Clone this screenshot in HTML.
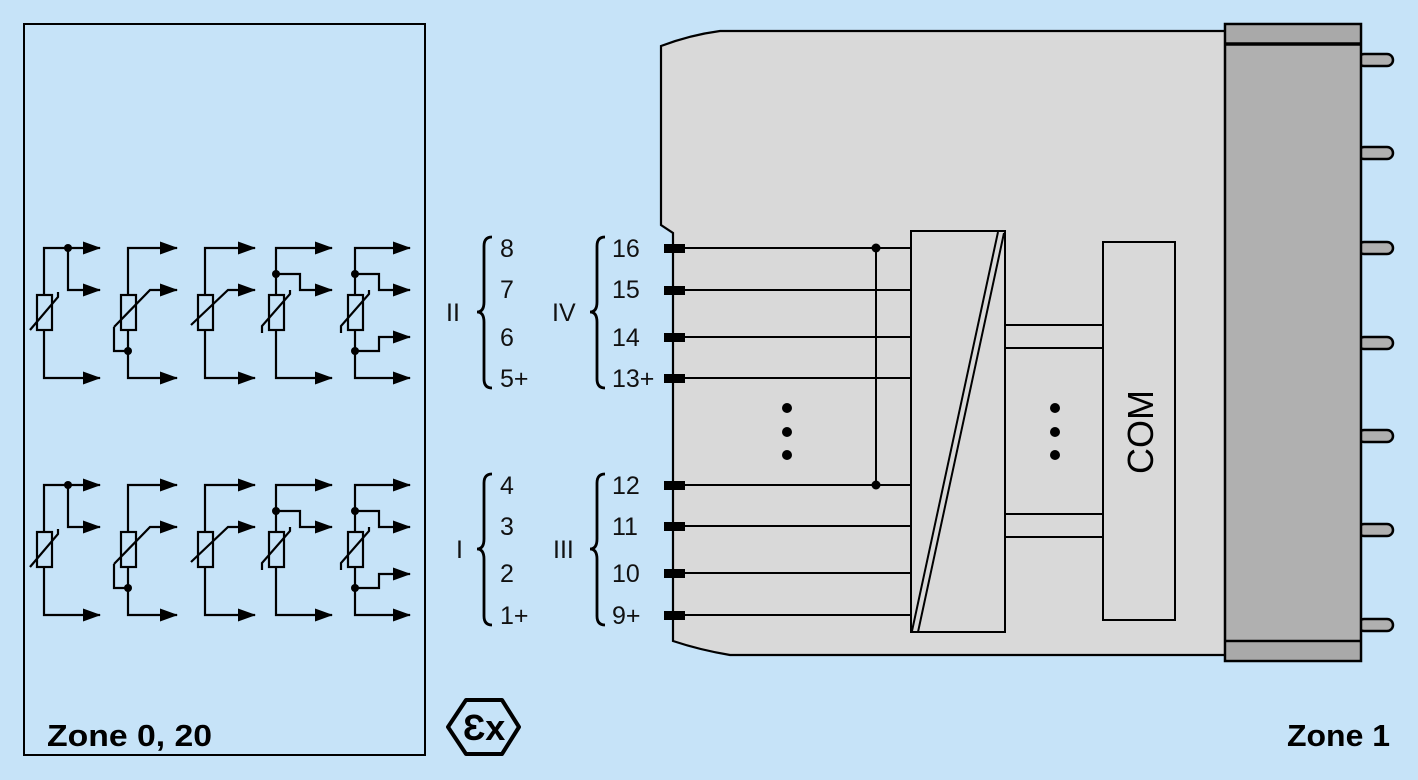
<!DOCTYPE html>
<html><head><meta charset="utf-8"><style>
html,body{margin:0;padding:0;background:#c6e3f8;}
svg{display:block;}
text{font-family:"Liberation Sans",Arial,sans-serif;}
</style></head><body>
<svg width="1418" height="780" viewBox="0 0 1418 780" xmlns="http://www.w3.org/2000/svg">
<defs>
<marker id="ar" markerWidth="18" markerHeight="14" refX="17" refY="6.5" orient="auto" markerUnits="userSpaceOnUse">
<path d="M0,0 L18,6.5 L0,13 z" fill="#000"/></marker>
<g id="sensors" fill="none" stroke="#000" stroke-width="2.2">
 <path d="M44,295 V248 H100" marker-end="url(#ar)"/>
 <path d="M68,248 V290 H100" marker-end="url(#ar)"/>
 <path d="M44,330 V378 H100" marker-end="url(#ar)"/>
 <rect x="37" y="295" width="15" height="35"/>
 <path d="M30,330 L58,297 V292"/>
 <circle cx="68" cy="248" r="4" fill="#000" stroke="none"/>
 <path d="M128,295 V248 H177" marker-end="url(#ar)"/>
 <path d="M128,330 V378 H177" marker-end="url(#ar)"/>
 <rect x="121" y="295" width="15" height="35"/>
 <path d="M114,327 L150,290 H177" marker-end="url(#ar)"/>
 <path d="M114,327 V351 H128"/>
 <circle cx="128" cy="351" r="4" fill="#000" stroke="none"/>
 <path d="M205,295 V248 H255" marker-end="url(#ar)"/>
 <path d="M205,330 V378 H255" marker-end="url(#ar)"/>
 <rect x="198" y="295" width="15" height="35"/>
 <path d="M191,325 L228,290 H255" marker-end="url(#ar)"/>
 <path d="M276,295 V248 H332" marker-end="url(#ar)"/>
 <path d="M276,274 H300 V290 H332" marker-end="url(#ar)"/>
 <path d="M276,330 V378 H332" marker-end="url(#ar)"/>
 <rect x="269" y="295" width="15" height="35"/>
 <path d="M262,333 V326 L290,294 V290"/>
 <circle cx="276" cy="274" r="4" fill="#000" stroke="none"/>
 <path d="M355,295 V248 H410" marker-end="url(#ar)"/>
 <path d="M355,274 H379 V290 H410" marker-end="url(#ar)"/>
 <path d="M355,351 H379 V337 H410" marker-end="url(#ar)"/>
 <path d="M355,330 V378 H410" marker-end="url(#ar)"/>
 <rect x="348" y="295" width="15" height="35"/>
 <path d="M341,333 V326 L369,294 V290"/>
 <circle cx="355" cy="274" r="4" fill="#000" stroke="none"/>
 <circle cx="355" cy="351" r="4" fill="#000" stroke="none"/>
</g>
</defs>
<rect width="1418" height="780" fill="#c6e3f8"/>
<rect x="24" y="24" width="401" height="731" fill="none" stroke="#000" stroke-width="2"/>
<use href="#sensors"/>
<use href="#sensors" transform="translate(0,237)"/>
<text x="47" y="746" font-size="31" font-weight="bold" textLength="165" lengthAdjust="spacingAndGlyphs">Zone 0, 20</text>
<text x="1287" y="746" font-size="31" font-weight="bold" textLength="103" lengthAdjust="spacingAndGlyphs">Zone 1</text>

<polygon points="448,727 466,700 502,700 519,727 502,754 466,754" fill="none" stroke="#000" stroke-width="4" stroke-linejoin="round"/>
<text x="484" y="740" font-size="36" font-weight="bold" text-anchor="middle">Ɛx</text>

<g font-size="25" fill="#111">
<text x="500" y="257">8</text><text x="500" y="298">7</text><text x="500" y="346">6</text><text x="500" y="387">5+</text>
<text x="500" y="494">4</text><text x="500" y="535">3</text><text x="500" y="582">2</text><text x="500" y="624">1+</text>
<text x="612" y="257">16</text><text x="612" y="298">15</text><text x="612" y="346">14</text><text x="612" y="387">13+</text>
<text x="612" y="494">12</text><text x="612" y="535">11</text><text x="612" y="582">10</text><text x="612" y="624">9+</text>
<text x="446" y="321">II</text><text x="552" y="321">IV</text>
<text x="456" y="558">I</text><text x="553" y="558">III</text>
</g>
<g fill="none" stroke="#000" stroke-width="2.8">
<path d="M492,237 Q484,237 484,246 V302 Q484,312 477,312 Q484,312 484,322 V379 Q484,388 492,388"/>
<path d="M605,237 Q597,237 597,246 V302 Q597,312 590,312 Q597,312 597,322 V379 Q597,388 605,388"/>
<path d="M492,474 Q484,474 484,483 V539 Q484,549 477,549 Q484,549 484,559 V616 Q484,625 492,625"/>
<path d="M605,474 Q597,474 597,483 V539 Q597,549 590,549 Q597,549 597,559 V616 Q597,625 605,625"/>
</g>

<path d="M661,46 Q690,35 720,31 H1226 V655 H730 Q700,650 673,641 V233 L661,225 Z" fill="#d9d9d9" stroke="#000" stroke-width="2.2"/>
<g stroke="#000" stroke-width="2.5" fill="#b0b0b0">
<rect x="1358" y="54" width="35" height="12" rx="6"/>
<rect x="1358" y="147" width="35" height="12" rx="6"/>
<rect x="1358" y="242" width="35" height="12" rx="6"/>
<rect x="1358" y="337" width="35" height="12" rx="6"/>
<rect x="1358" y="430" width="35" height="12" rx="6"/>
<rect x="1358" y="524" width="35" height="12" rx="6"/>
<rect x="1358" y="619" width="35" height="12" rx="6"/>
<rect x="1225" y="24" width="136" height="637"/>
<line x1="1225" y1="44" x2="1361" y2="44" stroke-width="3.5"/>
<line x1="1225" y1="641" x2="1361" y2="641" stroke-width="2.5"/>
</g>
<g fill="#a9a9a9"><rect x="1227" y="26" width="132" height="16"/><rect x="1227" y="643" width="132" height="16"/></g>

<g stroke="#000" stroke-width="2" fill="none">
<path d="M685,248 H911 M685,290 H911 M685,337 H911 M685,378 H911 M685,485 H911 M685,526 H911 M685,573 H911 M685,615 H911"/>
<path d="M876,248 V485"/>
<rect x="911" y="231" width="94" height="401" fill="#d9d9d9"/>
<path d="M998,232 L912,631 M1004,233 L918,632"/>
<path d="M1005,325 H1103 M1005,348 H1103 M1005,514 H1103 M1005,537 H1103"/>
<rect x="1103" y="242" width="72" height="378" fill="#d9d9d9"/>
</g>
<g fill="#000">
<rect x="664" y="244" width="21" height="9"/><rect x="664" y="286" width="21" height="9"/>
<rect x="664" y="333" width="21" height="9"/><rect x="664" y="374" width="21" height="9"/>
<rect x="664" y="481" width="21" height="9"/><rect x="664" y="522" width="21" height="9"/>
<rect x="664" y="569" width="21" height="9"/><rect x="664" y="611" width="21" height="9"/>
<circle cx="876" cy="248" r="4.5"/><circle cx="876" cy="485" r="4.5"/>
<circle cx="787" cy="408" r="5"/><circle cx="787" cy="432" r="5"/><circle cx="787" cy="455" r="5"/>
<circle cx="1055" cy="408" r="5"/><circle cx="1055" cy="432" r="5"/><circle cx="1055" cy="455" r="5"/>
</g>
<text x="0" y="0" font-size="36" text-anchor="middle" transform="translate(1153,432) rotate(-90)">COM</text>
</svg>
</body></html>
